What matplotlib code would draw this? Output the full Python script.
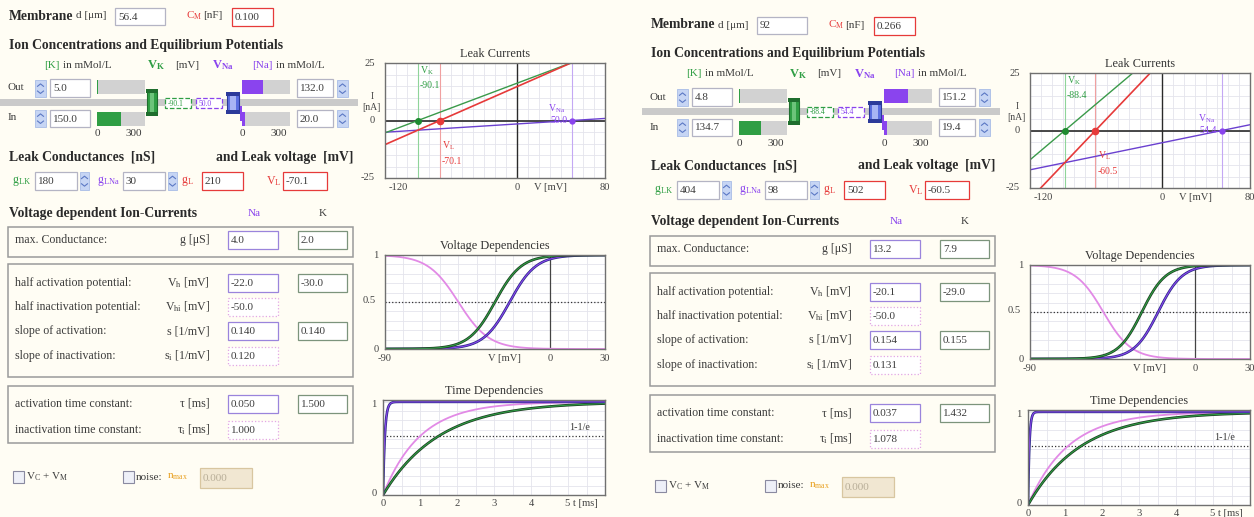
import numpy as np
import matplotlib
matplotlib.use("Agg")
import matplotlib.pyplot as plt
from matplotlib.patches import Rectangle

# ---- parameters of the two model cells (left panel, right panel) ----
diameter_um = [56.4, 92]
capacitance_nF = [0.100, 0.266]
k_out_mM = [5.0, 4.8]
k_in_mM = [150.0, 134.7]
na_out_mM = [132.0, 151.2]
na_in_mM = [20.0, 19.4]
v_k_mV = [-90.1, -88.4]
v_na_mV = [50.0, 54.4]
g_leak_k_nS = [180, 404]
g_leak_na_nS = [30, 98]
g_leak_nS = [210, 502]
v_leak_mV = [-70.1, -60.5]
gmax_na_uS = [4.0, 13.2]
gmax_k_uS = [2.0, 7.9]
vh_na_mV = [-22.0, -20.1]
vh_k_mV = [-30.0, -29.0]
vhi_na_mV = [-50.0, -50.0]
s_na = [0.140, 0.154]
s_k = [0.140, 0.155]
si_na = [0.120, 0.131]
tau_na_ms = [0.050, 0.037]
tau_k_ms = [1.500, 1.432]
tau_i_na_ms = [1.000, 1.078]
noise_max = [0.000, 0.000]
conc_bar_max = 300
leak_v_range = (-120, 80)
leak_i_range = (-25, 25)
vdep_v_range = (-90, 30)
time_range_ms = (0, 6)

W, H = 1254, 517
BG = "#fffdf4"
TXT = "#3c3c3c"
GREEN = "#2f9e44"
DKGREEN = "#1c3d22"
PURPLE = "#8a44ee"
NAVY = "#2c2c86"
PINK = "#e28ae6"
RED = "#e63a3a"
ORANGE = "#e8a020"
FS = 8.6        # body text
FSB = 9.8       # bold section headings
FSV = 8.0       # values inside input boxes
FSP = 7.6       # plot labels

plt.rcParams["font.family"] = ["Liberation Serif", "DejaVu Serif"]
plt.rcParams["mathtext.fontset"] = "custom"
plt.rcParams["mathtext.rm"] = "Liberation Serif"
plt.rcParams["mathtext.it"] = "Liberation Serif:italic"
plt.rcParams["mathtext.bf"] = "Liberation Serif:bold"

fig = plt.figure(figsize=(W / 100, H / 100), dpi=100, facecolor=BG)
ui = fig.add_axes([0, 0, 1, 1])
ui.set_xlim(0, W)
ui.set_ylim(H, 0)
ui.axis("off")


def sub(base, s):
    return base + r"$_\mathrm{" + s + "}$"


def make_tools(dx, dy):
    def T(x, y, s, fs=FS, c=TXT, ha="left", **kw):
        ui.text(x + dx, y + dy, s, fontsize=fs, color=c, ha=ha, va="center", **kw)

    def R(x0, y0, x1, y1, fc="white", ec="none", lw=0.9, ls="-", z=2):
        ui.add_patch(Rectangle((x0 + dx, y0 + dy), x1 - x0, y1 - y0, fc=fc, ec=ec,
                               lw=lw, ls=ls, zorder=z))

    def B(x0, y0, x1, y1, s, ec="#b4b4c4", ls="-", fc="white", tc=TXT, fs=FSV):
        R(x0, y0, x1, y1, fc=fc, ec=ec, ls=ls)
        T(x0 + 3, (y0 + y1) / 2 + 0.5, s, fs=fs, c=tc, zorder=3)

    def SP(x0, y0, x1, y1):
        R(x0, y0, x1, y1, fc="#c6d5f4", ec="#a8bce6", lw=0.6)
        xm = (x0 + x1) / 2
        h = y1 - y0
        for yy, d in ((y0 + h * 0.3, -1), (y0 + h * 0.72, 1)):
            ui.plot([xm - 3 + dx, xm + dx, xm + 3 + dx],
                    [yy + dy - d * 1.2, yy + dy + d * 1.2, yy + dy - d * 1.2],
                    color="#5b78c4", lw=0.8, zorder=3)

    return T, R, B, SP


def draw_panel(i, dx, dy):
    T, R, B, SP = make_tools(dx, dy)
    bold = dict(fontweight="bold", fs=FSB, c="#2a2a2a")

    # membrane geometry
    T(9, 16, "Membrane", **bold)
    T(76, 16, "d [μm]", fs=8)
    B(115, 8, 165, 25, f"{diameter_um[i]:g}")
    T(186, 16, sub("C", "M"), c=RED, fs=8)
    T(203, 16, "[nF]", fs=8)
    B(232, 8, 273, 26, f"{capacitance_nF[i]:.3f}", ec=RED)

    # ion concentrations
    T(9, 45, "Ion Concentrations and Equilibrium Potentials", **bold)
    T(44, 65, "[K]", c=GREEN, fs=8)
    T(63, 65, "in mMol/L", fs=8)
    T(147, 65, r"V$_\mathbf{K}$", c=GREEN, fs=9, fontweight="bold")
    T(175, 65, "[mV]", fs=8)
    T(212, 65, r"V$_\mathbf{Na}$", c=PURPLE, fs=9, fontweight="bold")
    T(252, 65, "[Na]", c=PURPLE, fs=8)
    T(276, 65, "in mMol/L", fs=8)

    R(0, 99, 358, 106, fc="#cacaca", z=1)

    bar_w = 48
    for x0, y0, val, col in ((97, 80, k_out_mM[i], GREEN), (97, 112, k_in_mM[i], GREEN),
                             (242, 80, na_out_mM[i], PURPLE), (242, 112, na_in_mM[i], PURPLE)):
        R(x0, y0, x0 + bar_w, y0 + 14, fc="#d2d2d2")
        R(x0, y0, x0 + bar_w * val / conc_bar_max, y0 + 14, fc=col, z=2.5)
    for x0 in (97, 242):
        T(x0, 134, "0", fs=8, ha="center")
        T(x0 + 37, 134, f"{conc_bar_max}", fs=8, ha="center")

    T(8, 88, "Out", fs=8)
    T(8, 118, "In", fs=8)
    SP(35, 80, 46, 97)
    SP(35, 110, 46, 127)
    B(50, 79, 90, 97, f"{k_out_mM[i]:.1f}")
    B(50, 110, 90, 127, f"{k_in_mM[i]:.1f}")
    B(297, 79, 333, 97, f"{na_out_mM[i]:.1f}")
    B(297, 110, 333, 127, f"{na_in_mM[i]:.1f}")
    SP(337, 80, 348, 97)
    SP(337, 110, 348, 127)

    # channel pictograms in the membrane
    R(146, 89, 158, 93, fc="#1f6e2e", z=3)
    R(147, 92, 157, 113, fc=GREEN, ec="#1f6e2e", lw=0.8, z=3)
    R(150, 93, 154, 112, fc="#6cc47a", z=3.2)
    R(146, 112, 158, 116, fc="#1f6e2e", z=3)
    R(226, 92, 240, 96, fc="#2c3a9a", z=3)
    R(227, 95, 239, 111, fc="#5b6ee0", ec="#2c3a9a", lw=0.8, z=3)
    R(230, 96, 236, 110, fc="#a8b4f4", z=3.2)
    R(226, 110, 240, 114, fc="#2c3a9a", z=3)
    R(240, 106, 242, 121, fc=PURPLE, z=3)
    B(165, 98, 191, 108, f"{v_k_mV[i]:.1f}", ec=GREEN, ls="--", tc=GREEN, fs=5.5)
    B(196, 98, 222, 108, f"{v_na_mV[i]:.1f}", ec=PURPLE, ls="--", tc=PURPLE, fs=5.5)

    # leak conductances
    T(9, 157, "Leak Conductances  [nS]", **bold)
    T(353, 157, "and Leak voltage  [mV]", ha="right", **bold)
    T(12, 181, sub("g", "LK"), c=GREEN, fs=FS)
    B(35, 172, 77, 190, f"{g_leak_k_nS[i]}")
    SP(80, 172, 89, 190)
    T(97, 181, sub("g", "LNa"), c=PURPLE, fs=FS)
    B(123, 172, 165, 190, f"{g_leak_na_nS[i]}")
    SP(168, 172, 177, 190)
    T(181, 181, sub("g", "L"), c=RED, fs=FS)
    B(202, 172, 243, 190, f"{g_leak_nS[i]}", ec=RED)
    T(266, 181, sub("V", "L"), c=RED, fs=FS)
    B(283, 172, 327, 190, f"{v_leak_mV[i]:.1f}", ec=RED)

    # voltage dependent currents
    T(9, 213, "Voltage dependent Ion-Currents", **bold)
    T(254, 213, "Na", c=PURPLE, fs=8, ha="center")
    T(323, 213, "K", fs=8, ha="center")
    for y0, y1 in ((227, 257), (264, 377), (386, 443)):
        R(8, y0, 353, y1, fc="none", ec="#9a9a9a", lw=1.1, z=1.5)

    na_ec, nai_ec, k_ec = "#9a84dc", "#e2a6e6", "#7c947c"
    rows = [
        (240, "max. Conductance:", "g [μS]", f"{gmax_na_uS[i]:.1f}", na_ec, f"{gmax_k_uS[i]:.1f}"),
        (283, "half activation potential:", sub("V", "h") + " [mV]", f"{vh_na_mV[i]:.1f}", na_ec,
         f"{vh_k_mV[i]:.1f}"),
        (307, "half inactivation potential:", sub("V", "hi") + " [mV]", f"{vhi_na_mV[i]:.1f}", nai_ec, None),
        (331, "slope of activation:", "s [1/mV]", f"{s_na[i]:.3f}", na_ec, f"{s_k[i]:.3f}"),
        (356, "slope of inactivation:", sub("s", "i") + " [1/mV]", f"{si_na[i]:.3f}", nai_ec, None),
        (404, "activation time constant:", "τ [ms]", f"{tau_na_ms[i]:.3f}", na_ec, f"{tau_k_ms[i]:.3f}"),
        (430, "inactivation time constant:", sub("τ", "i") + " [ms]", f"{tau_i_na_ms[i]:.3f}", nai_ec, None),
    ]
    for y, label, sym, na_txt, ec, k_txt in rows:
        T(15, y, label, fs=FS)
        T(210, y, sym, fs=FS, ha="right")
        B(228, y - 9, 278, y + 9, na_txt, ec=ec, ls="-" if ec == na_ec else ":")
        if k_txt is not None:
            B(298, y - 9, 347, y + 9, k_txt, ec=k_ec)

    # options
    R(13, 471, 24, 483, fc="#eef0f8", ec="#8a8aa0", lw=0.8)
    T(26, 477, r"V$_\mathrm{C}$ + V$_\mathrm{M}$", fs=8)
    R(123, 471, 134, 483, fc="#eef0f8", ec="#8a8aa0", lw=0.8)
    T(136, 477, "noise:", fs=8)
    T(167, 477, sub("n", "max"), c=ORANGE, fs=8)
    B(200, 468, 252, 488, f"{noise_max[i]:.3f}", fc="#f1e7d2", ec="#d8c6a0", tc="#b8ae98")


def plot_axes(x0, y0, x1, y1):
    ax = fig.add_axes([x0 / W, 1 - y1 / H, (x1 - x0) / W, (y1 - y0) / H])
    ax.set_facecolor("white")
    for sp in ax.spines.values():
        sp.set_color("#707070")
        sp.set_linewidth(1.0)
    ax.tick_params(length=0, labelleft=False, labelbottom=False)
    return ax


def lbl(ax, x, y, s, how, ha="center", va="center", fs=FSP, c="#444444"):
    tr = {"y": ax.get_yaxis_transform(), "x": ax.get_xaxis_transform(), "d": ax.transData}[how]
    ax.text(x, y, s, transform=tr, ha=ha, va=va, fontsize=fs, color=c, clip_on=False)


def draw_plots(i, dx, dy):
    # ---- leak currents ----
    ax = plot_axes(385 + dx, 63 + dy, 605 + dx, 178 + dy)
    ax.set_xlim(*leak_v_range)
    ax.set_ylim(*leak_i_range)
    ax.set_xticks(np.arange(leak_v_range[0], leak_v_range[1] + 1, 10))
    ax.set_yticks(np.arange(leak_i_range[0], leak_i_range[1] + 1, 5))
    ax.grid(color="#e4e4ec", lw=0.6)
    ax.set_axisbelow(True)
    ax.set_title("Leak Currents", fontsize=8.8, color="#333333", pad=4)
    V = np.linspace(leak_v_range[0], leak_v_range[1], 400)
    ax.axvline(v_k_mV[i], color="#8fd49a", lw=0.8)
    ax.axvline(v_leak_mV[i], color="#f0a0a0", lw=0.8)
    ax.axvline(v_na_mV[i], color="#c4a8f4", lw=0.8)
    ax.axhline(0, color="#2a2a2a", lw=1.2)
    ax.axvline(0, color="#2a2a2a", lw=1.0)
    ax.plot(V, g_leak_na_nS[i] * (V - v_na_mV[i]) / 1000, color="#6a40d0", lw=1.0)
    ax.plot(V, g_leak_k_nS[i] * (V - v_k_mV[i]) / 1000, color="#3a9a4a", lw=1.0)
    ax.plot(V, g_leak_nS[i] * (V - v_leak_mV[i]) / 1000, color=RED, lw=1.2)
    ax.plot([v_k_mV[i]], [0], "o", color="#1e8a30", ms=4, zorder=5)
    ax.plot([v_leak_mV[i]], [0], "o", color=RED, ms=4.5, zorder=5)
    ax.plot([v_na_mV[i]], [0], "o", color=PURPLE, ms=3.5, zorder=5)
    ax.text(v_k_mV[i] + 2, 20.5, sub("V", "K"), color=GREEN, fontsize=7)
    ax.text(v_k_mV[i] + 2, 14, f"{v_k_mV[i]:.1f}", color=GREEN, fontsize=7)
    ax.text(v_leak_mV[i] + 2, -12, sub("V", "L"), color=RED, fontsize=7)
    ax.text(v_leak_mV[i] + 2, -19, f"{v_leak_mV[i]:.1f}", color=RED, fontsize=7)
    ax.text(v_na_mV[i] - 22, 4, sub("V", "Na"), color=PURPLE, fontsize=7)
    ax.text(v_na_mV[i] - 20, 0, f"{v_na_mV[i]:.1f}", color=PURPLE, fontsize=7, va="center")
    lbl(ax, -0.07, leak_i_range[1], f"{leak_i_range[1]}", "y")
    lbl(ax, -0.06, 0, "0", "y")
    lbl(ax, -0.08, leak_i_range[0], f"{leak_i_range[0]}", "y")
    lbl(ax, -0.06, 8, "I\n[nA]", "y", fs=7)
    lbl(ax, leak_v_range[0] + 3, -0.04, f"{leak_v_range[0]}", "x", ha="left", va="top")
    lbl(ax, 0, -0.04, "0", "x", va="top")
    lbl(ax, 30, -0.04, "V [mV]", "x", va="top")
    lbl(ax, leak_v_range[1], -0.04, f"{leak_v_range[1]}", "x", va="top")

    # ---- steady-state voltage dependencies ----
    ax = plot_axes(385 + dx, 255 + dy, 605 + dx, 349 + dy)
    ax.set_xlim(*vdep_v_range)
    ax.set_ylim(0, 1)
    ax.set_xticks(np.arange(vdep_v_range[0], vdep_v_range[1] + 1, 10))
    ax.set_yticks(np.arange(0, 1.01, 0.1))
    ax.grid(color="#e4e4ec", lw=0.6)
    ax.set_axisbelow(True)
    ax.set_title("Voltage Dependencies", fontsize=8.8, color="#333333", pad=4)
    V = np.linspace(vdep_v_range[0], vdep_v_range[1], 400)
    m_na = 1 / (1 + np.exp(-s_na[i] * (V - vh_na_mV[i])))
    m_k = 1 / (1 + np.exp(-s_k[i] * (V - vh_k_mV[i])))
    h_na = 1 / (1 + np.exp(si_na[i] * (V - vhi_na_mV[i])))
    ax.axhline(0.5, color="#333333", lw=0.9, ls=":")
    ax.axvline(0, color="#444444", lw=0.9)
    ax.plot(V, h_na, color=PINK, lw=1.3)
    ax.plot(V, m_na, color=NAVY, lw=1.9)
    ax.plot(V, m_na, color=PURPLE, lw=0.8)
    ax.plot(V, m_k, color=DKGREEN, lw=1.9)
    ax.plot(V, m_k, color=GREEN, lw=0.8)
    lbl(ax, -0.04, 1, "1", "y")
    lbl(ax, -0.07, 0.52, "0.5", "y")
    lbl(ax, -0.04, 0, "0", "y")
    lbl(ax, vdep_v_range[0], -0.05, f"{vdep_v_range[0]}", "x", va="top")
    lbl(ax, -25, -0.05, "V [mV]", "x", va="top")
    lbl(ax, 0, -0.05, "0", "x", va="top")
    lbl(ax, vdep_v_range[1], -0.05, f"{vdep_v_range[1]}", "x", va="top")

    # ---- time dependencies ----
    ax = plot_axes(383 + dx, 400 + dy, 605 + dx, 495 + dy)
    ax.set_xlim(*time_range_ms)
    ax.set_ylim(0, 1.02)
    ax.set_xticks(np.arange(time_range_ms[0], time_range_ms[1] + 0.01, 0.5))
    ax.set_yticks(np.arange(0, 1.01, 0.1))
    ax.grid(color="#e4e4ec", lw=0.6)
    ax.set_axisbelow(True)
    ax.set_title("Time Dependencies", fontsize=8.8, color="#333333", pad=4)
    t = np.linspace(time_range_ms[0], time_range_ms[1], 800)
    ax.axhline(1 - np.exp(-1), color="#333333", lw=0.9, ls=":")
    ax.plot(t, 1 - np.exp(-t / tau_i_na_ms[i]), color=PINK, lw=1.3)
    ax.plot(t, 1 - np.exp(-t / tau_k_ms[i]), color=DKGREEN, lw=1.9)
    ax.plot(t, 1 - np.exp(-t / tau_k_ms[i]), color=GREEN, lw=0.8)
    ax.plot(t, 1 - np.exp(-t / tau_na_ms[i]), color=NAVY, lw=1.9)
    ax.plot(t, 1 - np.exp(-t / tau_na_ms[i]), color=PURPLE, lw=0.8)
    ax.text(5.3, 0.7, "1-1/e", fontsize=7.2, color="#333333", ha="center")
    lbl(ax, -0.04, 0.97, "1", "y")
    lbl(ax, -0.04, 0.02, "0", "y")
    for k in range(0, 5):
        lbl(ax, k, -0.04, f"{k}", "x", va="top")
    lbl(ax, 4.93, -0.04, "5 t [ms]", "x", ha="left", va="top")


for i, (dx, dy, pdy) in enumerate(((0, 0, 0), (642, 9, 10))):
    draw_panel(i, dx, dy)
    draw_plots(i, dx + (645 - 642) * i, pdy)

fig.savefig("out.png", dpi=100, facecolor=BG)
